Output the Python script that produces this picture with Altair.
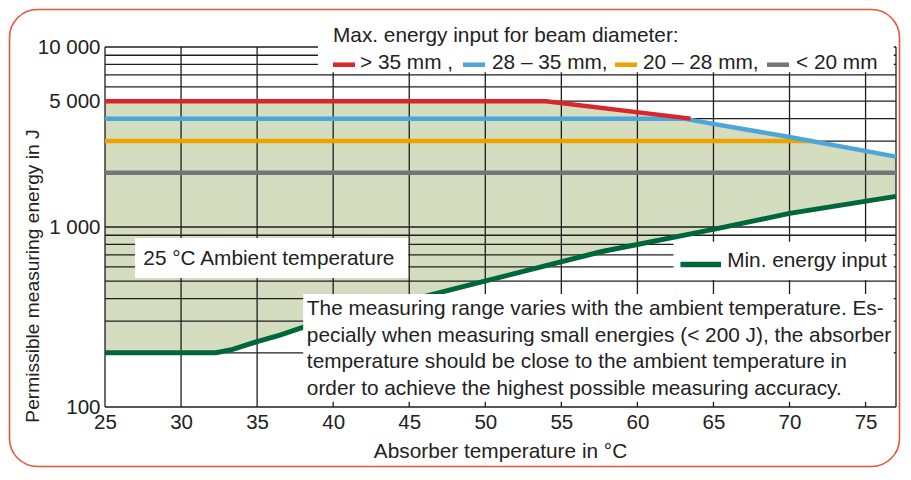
import altair as alt
import pandas as pd

# ---------------- data ----------------
# Max. energy input curves (temperature in °C, energy in J)
T_GT35 = [25, 54, 63.5]
E_GT35 = [5000, 5000, 4000]
T_28_35 = [25, 63, 70, 77]
E_28_35 = [4000, 4000, 3160, 2460]
T_20_28 = [25, 71.5]
E_20_28 = [3000, 3000]
T_LT20 = [25, 77]
E_LT20 = [2000, 2000]
# Min. energy input curve
T_MIN = [25, 32.3, 33.4, 35, 36.5, 38, 47.7, 57.6, 65, 70, 77]
E_MIN = [200, 200, 209, 231, 251, 277, 447, 729, 970, 1190, 1480]

X_TICKS = [25, 30, 35, 40, 45, 50, 55, 60, 65, 70, 75]
X_GRID = [25, 30, 35, 40, 45, 50, 55, 60, 65, 70, 75, 77]
Y_GRID = [100, 200, 300, 400, 500, 600, 700, 800, 900,
          1000, 2000, 3000, 4000, 5000, 6000, 7000, 8000, 9000, 10000]
Y_LABELS = [100, 1000, 5000, 10000]

LEGEND_TITLE = "Max. energy input for beam diameter:"
LEGEND_LABELS = ["> 35 mm ,", "28 – 35 mm,", "20 – 28 mm,", "< 20 mm"]
MIN_LABEL = "Min. energy input"
AMBIENT_LABEL = "25 °C Ambient temperature"
NOTE_LINES = [
    "The measuring range varies with the ambient temperature. Es-",
    "pecially when measuring small energies (< 200 J), the absorber",
    "temperature should be close to the ambient temperature in",
    "order to achieve the highest possible measuring accuracy.",
]
X_TITLE = "Absorber temperature in °C"
Y_TITLE = "Permissible measuring energy in J"

# ---------------- styles ----------------
RED, BLUE, ORANGE, GRAY, GREEN = "#d9262c", "#4ea6d8", "#eda200", "#767676", "#00673a"
SERIES_COLORS = [RED, BLUE, ORANGE, GRAY]
FILL = "#d5ddc0"
GRID = "#1e1e1e"
TXT = "#222222"
FRAME = "#e8553e"
FONT = "Liberation Sans"
FS = 20.8
W, H = 791, 360
E_BOTTOM = 100

xs = alt.Scale(domain=[25, 77], nice=False, zero=False)
ys = alt.Scale(type="log", domain=[100, 10000], nice=False)
xaxis = alt.Axis(values=X_TICKS, title=None, grid=False, ticks=False, domain=False,
                 labelFontSize=20.5, labelFont=FONT, labelColor=TXT, labelPadding=5,
                 labelFlush=False)
yaxis = alt.Axis(values=Y_LABELS, title=None, grid=False, ticks=False, domain=False,
                 labelExpr="replace(format(datum.value, ','), ',', ' ')",
                 labelFontSize=20.5, labelFont=FONT, labelColor=TXT, labelPadding=5)


def X(f="T"):
    return alt.X(f + ":Q", scale=xs, axis=xaxis)


def Y(f="E"):
    return alt.Y(f + ":Q", scale=ys, axis=yaxis)


series = [
    (T_GT35, E_GT35), (T_28_35, E_28_35), (T_20_28, E_20_28), (T_LT20, E_LT20)
]

# upper envelope of the permitted range: >35 mm curve, then the 28-35 mm curve
env_T = T_GT35 + [t for t in T_28_35 if t > T_GT35[-1]]
env_E = E_GT35 + [e for t, e in zip(T_28_35, E_28_35) if t > T_GT35[-1]]
env_df = pd.DataFrame({"T": env_T, "E": env_E})
env_df["B"] = E_BOTTOM
min_df = pd.DataFrame({"T": T_MIN, "E": E_MIN})
min_df["B"] = E_BOTTOM

layers = []
layers.append(alt.Chart(env_df).mark_area(color=FILL, opacity=1).encode(
    x=X(), y=Y(), y2=alt.Y2("B:Q")))
layers.append(alt.Chart(min_df).mark_area(color="white", opacity=1).encode(
    x=X(), y=Y(), y2=alt.Y2("B:Q")))

# grid / frame
layers.append(alt.Chart(pd.DataFrame({"T": X_GRID})).mark_rule(
    color=GRID, strokeWidth=1.3).encode(x=X(), y=alt.value(0), y2=alt.value(H)))
layers.append(alt.Chart(pd.DataFrame({"E": Y_GRID})).mark_rule(
    color=GRID, strokeWidth=1.3).encode(y=Y(), x=alt.value(0), x2=alt.value(W)))

# curves (draw order: gray, orange, blue, red)
for (tt, ee), col in list(zip(series, SERIES_COLORS))[::-1]:
    layers.append(alt.Chart(pd.DataFrame({"T": tt, "E": ee})).mark_line(
        color=col, strokeWidth=4.5).encode(x=X(), y=Y()))
layers.append(alt.Chart(min_df).mark_line(color=GREEN, strokeWidth=5).encode(
    x=X(), y=Y()))

# white annotation boxes (in data units)
boxes = pd.DataFrame([
    {"T1": 39.0, "T2": 76.85, "E1": 7250, "E2": 10600},   # legend
    {"T1": 26.97, "T2": 44.93, "E1": 521, "E2": 869},     # ambient
    {"T1": 62.37, "T2": 76.85, "E1": 508, "E2": 828},     # min label
    {"T1": 38.03, "T2": 76.85, "E1": 107, "E2": 425},     # note
])
layers.append(alt.Chart(boxes).mark_rect(color="white", opacity=1).encode(
    x=X("T1"), x2=alt.X2("T2"), y=Y("E1"), y2=alt.Y2("E2")))

txt = dict(font=FONT, fontSize=FS, color=TXT)

layers.append(alt.Chart(pd.DataFrame([{"T": 27.52, "E": 615, "label": AMBIENT_LABEL}]))
              .mark_text(align="left", baseline="alphabetic", **txt)
              .encode(x=X(), y=Y(), text="label:N"))
layers.append(alt.Chart(pd.DataFrame([{"T": 65.9, "E": 597, "label": MIN_LABEL}]))
              .mark_text(align="left", baseline="alphabetic", **txt)
              .encode(x=X(), y=Y(), text="label:N"))
layers.append(alt.Chart(pd.DataFrame([{"T1": 62.83, "T2": 65.5, "E": 619}]))
              .mark_rule(color=GREEN, strokeWidth=5.5)
              .encode(x=X("T1"), x2=alt.X2("T2"), y=Y()))
layers.append(alt.Chart(pd.DataFrame([{"T": 38.27, "E": 324.6}]))
              .mark_text(align="left", baseline="alphabetic", text=NOTE_LINES,
                         lineHeight=26.7, **txt)
              .encode(x=X(), y=Y()))

one = alt.Data(values=[{"k": 1}])

# legend at the top (pixel offsets from the plot's top-left corner)
layers.append(alt.Chart(one).mark_text(align="left", baseline="alphabetic",
                                       text=LEGEND_TITLE, **txt)
              .encode(x=alt.value(228), y=alt.value(-5.5)))
sw_x = [228, 358, 510, 662]
lab_x = [255, 387, 538, 691]
for lab, col, sx, lx in zip(LEGEND_LABELS, SERIES_COLORS, sw_x, lab_x):
    layers.append(alt.Chart(one).mark_rule(color=col, strokeWidth=4.5)
                  .encode(x=alt.value(sx), x2=alt.value(sx + 22), y=alt.value(17.7)))
    layers.append(alt.Chart(one).mark_text(align="left", baseline="alphabetic",
                                           text=lab, **txt)
                  .encode(x=alt.value(lx), y=alt.value(22.3)))

# axis titles
layers.append(alt.Chart(one).mark_text(align="center", baseline="middle", angle=270,
                                       text=Y_TITLE, font=FONT, fontSize=19.2, color=TXT)
              .encode(x=alt.value(-72), y=alt.value(229)))
layers.append(alt.Chart(one).mark_text(align="center", baseline="alphabetic",
                                       text=X_TITLE, **txt)
              .encode(x=alt.value(W / 2), y=alt.value(410.7)))

# rounded outer frame
layers.append(alt.Chart(one).mark_rect(filled=False, color=FRAME, strokeWidth=1.6,
                                       cornerRadius=28)
              .encode(x=alt.value(-95.5), x2=alt.value(794.5),
                      y=alt.value(-37.5), y2=alt.value(419.5)))

chart = alt.layer(*layers).properties(
    width=W, height=H,
    padding={"left": 97, "top": 39, "right": 5, "bottom": 61},
    autosize=alt.AutoSizeParams(type="none"),
    background="white",
).configure_view(strokeWidth=0)

chart.save("out.html", embed_options={"renderer": "svg", "actions": False})
